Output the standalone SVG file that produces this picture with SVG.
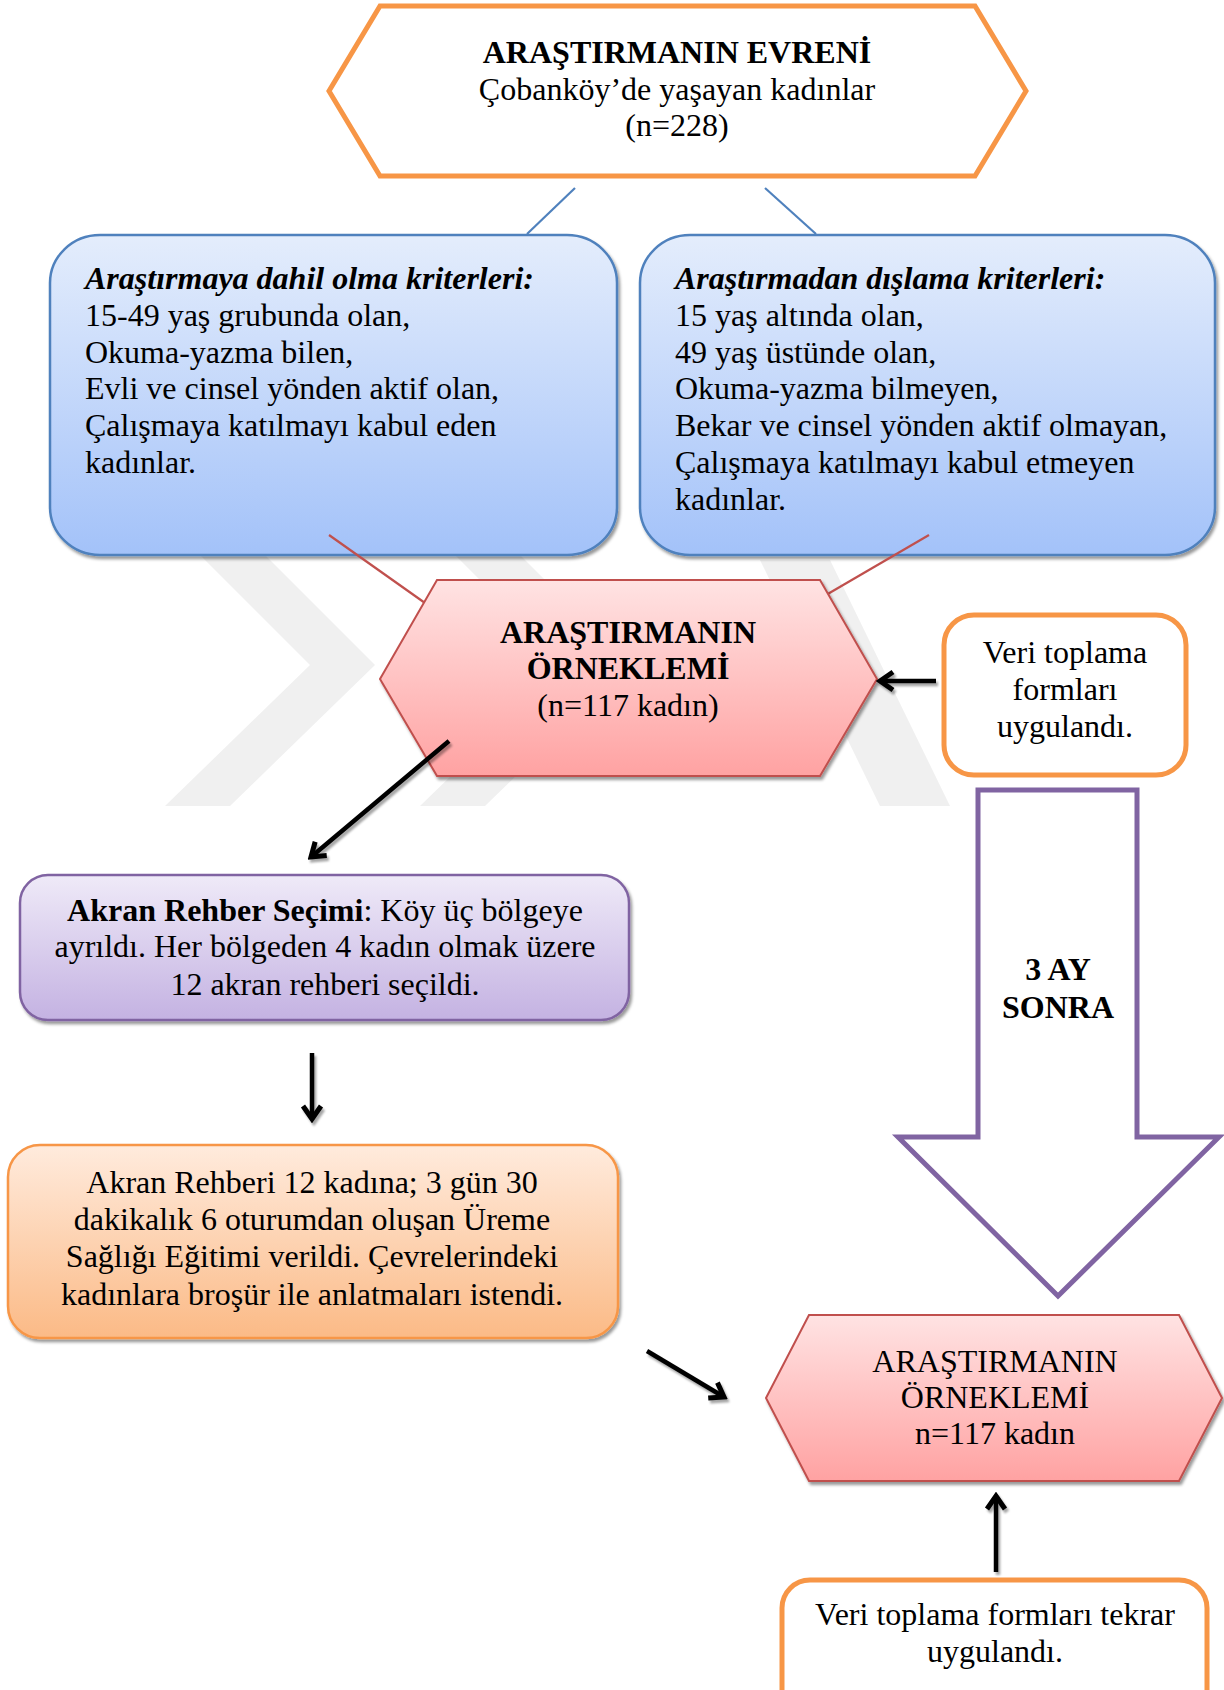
<svg xmlns="http://www.w3.org/2000/svg" width="1224" height="1690" viewBox="0 0 1224 1690">
<defs>
<style>
text{font-family:"Liberation Serif","Times New Roman",serif;font-size:32px;fill:#000}
.b{font-weight:bold}
.bi{font-weight:bold;font-style:italic}
.c{text-anchor:middle}
.wm{fill:#F0F0F0}
.conB{stroke:#4F81BD;stroke-width:2.2;fill:none}
.conR{stroke:#C0504D;stroke-width:2.2;fill:none}
.arr{stroke:#000;stroke-width:4.5;fill:none;marker-end:url(#ah)}
</style>
<linearGradient id="gBlue" x1="0" y1="0" x2="0" y2="1"><stop offset="0" stop-color="#E4EDFC"/><stop offset="1" stop-color="#A3C2F9"/></linearGradient>
<linearGradient id="gRed" x1="0" y1="0" x2="0" y2="1"><stop offset="0" stop-color="#FFE3E3"/><stop offset="1" stop-color="#FFA2A2"/></linearGradient>
<linearGradient id="gPur" x1="0" y1="0" x2="0" y2="1"><stop offset="0" stop-color="#EFEAF8"/><stop offset="1" stop-color="#C4B2E2"/></linearGradient>
<linearGradient id="gOr" x1="0" y1="0" x2="0" y2="1"><stop offset="0" stop-color="#FFEBDD"/><stop offset="1" stop-color="#FBBA86"/></linearGradient>
<filter id="sh" x="-10%" y="-10%" width="125%" height="130%"><feDropShadow dx="2" dy="3" stdDeviation="1.5" flood-color="#000" flood-opacity="0.4"/></filter>
<filter id="ash" x="-20%" y="-20%" width="150%" height="150%"><feDropShadow dx="2" dy="3" stdDeviation="1" flood-color="#000" flood-opacity="0.35"/></filter>
<marker id="ah" viewBox="0 0 24 24" refX="20" refY="12" markerWidth="24" markerHeight="24" markerUnits="userSpaceOnUse" orient="auto"><path d="M7,3 L20,12 L7,21" fill="none" stroke="#000" stroke-width="5" stroke-linejoin="miter"/></marker>
</defs>
<rect width="1224" height="1690" fill="#fff"/>

<g id="watermark">
<polygon class="wm" points="165,520 230,520 375,665 230,806 165,806 310,665"/>
<polygon class="wm" points="420,520 485,520 630,665 485,806 420,806 565,665"/>
<polygon class="wm" points="760,560 830,560 950,806 880,806"/>
</g>

<g id="connectors">
<line class="conB" x1="575" y1="188" x2="527" y2="234"/>
<line class="conB" x1="765" y1="188" x2="816" y2="234"/>
</g>

<g id="n-evren">
<polygon points="329,91 380,6 975,6 1026,91 975,176 380,176" fill="#fff" stroke="#F79646" stroke-width="5"/>
<text class="c b" x="677" y="63">ARAŞTIRMANIN EVRENİ</text>
<text class="c" x="677" y="100">Çobanköy’de yaşayan kadınlar</text>
<text class="c" x="677" y="136">(n=228)</text>
</g>

<g id="n-dahil">
<rect x="50" y="235" width="567" height="320" rx="50" ry="48" fill="url(#gBlue)" stroke="#4F81BD" stroke-width="2.5" filter="url(#sh)"/>
<text class="bi" x="85" y="289">Araştırmaya dahil olma kriterleri:</text>
<text x="85" y="326">15-49 yaş grubunda olan,</text>
<text x="85" y="363">Okuma-yazma bilen,</text>
<text x="85" y="399">Evli ve cinsel yönden aktif olan,</text>
<text x="85" y="436">Çalışmaya katılmayı kabul eden</text>
<text x="85" y="473">kadınlar.</text>
</g>

<g id="n-dislama">
<rect x="640" y="235" width="575" height="320" rx="50" ry="48" fill="url(#gBlue)" stroke="#4F81BD" stroke-width="2.5" filter="url(#sh)"/>
<text class="bi" x="675" y="289">Araştırmadan dışlama kriterleri:</text>
<text x="675" y="326">15 yaş altında olan,</text>
<text x="675" y="363">49 yaş üstünde olan,</text>
<text x="675" y="399">Okuma-yazma bilmeyen,</text>
<text x="675" y="436">Bekar ve cinsel yönden aktif olmayan,</text>
<text x="675" y="473">Çalışmaya katılmayı kabul etmeyen</text>
<text x="675" y="510">kadınlar.</text>
</g>

<g id="connectors2">
<line class="conR" x1="329" y1="535" x2="425" y2="603"/>
<line class="conR" x1="929" y1="535" x2="826" y2="595"/>
</g>

<g id="n-orneklem1">
<polygon points="380,679 437,580 820,580 877,679 820,776 437,776" fill="url(#gRed)" stroke="#C0504D" stroke-width="2" filter="url(#sh)"/>
<text class="c b" x="628" y="643">ARAŞTIRMANIN</text>
<text class="c b" x="628" y="679">ÖRNEKLEMİ</text>
<text class="c" x="628" y="716">(n=117 kadın)</text>
</g>

<g id="n-veri1">
<rect x="944" y="615" width="242" height="160" rx="30" fill="#fff" stroke="#F79646" stroke-width="5"/>
<text class="c" x="1065" y="663">Veri toplama</text>
<text class="c" x="1065" y="700">formları</text>
<text class="c" x="1065" y="737">uygulandı.</text>
</g>

<g id="n-3ay">
<polygon points="978,790 1137,790 1137,1137 1219,1137 1058,1296 898,1137 978,1137" fill="#fff" stroke="#8064A2" stroke-width="5"/>
<text class="c b" x="1058" y="980">3 AY</text>
<text class="c b" x="1058" y="1018">SONRA</text>
</g>

<g id="n-akran">
<rect x="20" y="875" width="609" height="145" rx="28" fill="url(#gPur)" stroke="#8064A2" stroke-width="2.5" filter="url(#sh)"/>
<text class="c" x="325" y="921"><tspan class="b">Akran Rehber Seçimi</tspan>: Köy üç bölgeye</text>
<text class="c" x="325" y="957">ayrıldı. Her bölgeden 4 kadın olmak üzere</text>
<text class="c" x="325" y="995">12 akran rehberi seçildi.</text>
</g>

<g id="n-egitim">
<rect x="8" y="1145" width="610" height="193" rx="32" fill="url(#gOr)" stroke="#F79646" stroke-width="2.5" filter="url(#sh)"/>
<text class="c" x="312" y="1193">Akran Rehberi 12 kadına; 3 gün 30</text>
<text class="c" x="312" y="1230">dakikalık 6 oturumdan oluşan Üreme</text>
<text class="c" x="312" y="1267">Sağlığı Eğitimi verildi. Çevrelerindeki</text>
<text class="c" x="312" y="1305">kadınlara broşür ile anlatmaları istendi.</text>
</g>

<g id="n-orneklem2">
<polygon points="766,1398 809,1315 1179,1315 1222,1398 1179,1481 809,1481" fill="url(#gRed)" stroke="#C0504D" stroke-width="2" filter="url(#sh)"/>
<text class="c" x="995" y="1372">ARAŞTIRMANIN</text>
<text class="c" x="995" y="1408">ÖRNEKLEMİ</text>
<text class="c" x="995" y="1444">n=117 kadın</text>
</g>

<g id="n-veri2">
<rect x="782" y="1580" width="425" height="140" rx="28" fill="#fff" stroke="#F79646" stroke-width="5"/>
<text class="c" x="995" y="1625">Veri toplama formları tekrar</text>
<text class="c" x="995" y="1662">uygulandı.</text>
</g>

<g id="arrows" filter="url(#ash)">
<line class="arr" x1="936" y1="681" x2="880" y2="681"/>
<line class="arr" x1="449" y1="741" x2="311" y2="857"/>
<line class="arr" x1="312" y1="1053" x2="312" y2="1119"/>
<line class="arr" x1="647" y1="1351" x2="724" y2="1397"/>
<line class="arr" x1="996" y1="1572" x2="996" y2="1496"/>
</g>
</svg>
